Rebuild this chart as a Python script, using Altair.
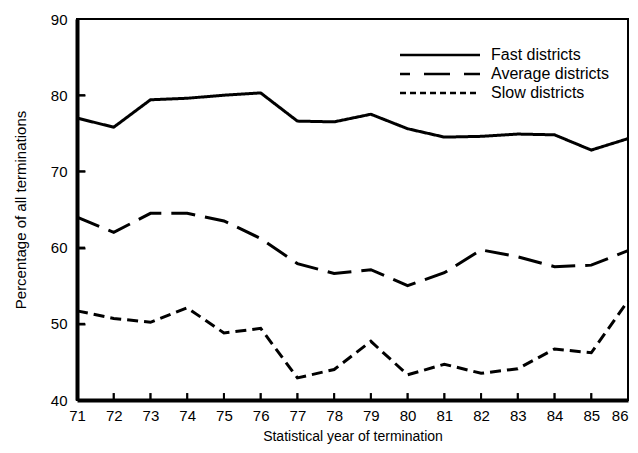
import altair as alt
import pandas as pd

years = list(range(71, 87))
fast = [77.0, 75.8, 79.4, 79.6, 80.0, 80.3, 76.6, 76.5, 77.5, 75.6, 74.5, 74.6, 74.9, 74.8, 72.8, 74.3]
average = [64.0, 62.0, 64.5, 64.5, 63.5, 61.2, 57.9, 56.6, 57.1, 55.0, 56.7, 59.7, 58.8, 57.5, 57.7, 59.6]
slow = [51.7, 50.7, 50.2, 52.1, 48.8, 49.4, 42.9, 44.0, 47.7, 43.3, 44.7, 43.5, 44.1, 46.7, 46.2, 53.0]
y_values = [40, 50, 60, 70, 80, 90]
y_ticks = [50, 60, 70, 80]
x_ticks = list(range(72, 86))
legend_labels = ["Fast districts", "Average districts", "Slow districts"]

FONT = "Liberation Sans"
W, H = 551, 381

df = pd.DataFrame({
    "year": years * 3,
    "pct": fast + average + slow,
    "series": [legend_labels[0]] * 16 + [legend_labels[1]] * 16 + [legend_labels[2]] * 16,
})

xs = alt.Scale(domain=[71, 86], nice=False, zero=False)
ys = alt.Scale(domain=[40, 90], nice=False, zero=False)

lines = alt.Chart(df).mark_line(color="black", strokeWidth=3, strokeCap="butt").encode(
    x=alt.X("year:Q", scale=xs,
            axis=alt.Axis(values=years, title="Statistical year of termination", format="d",
                          ticks=False, grid=False, domainWidth=4, domainColor="black",
                          labelOverlap=False, labelFlush=False, labelSeparation=0,
                          labelAlign={"expr": "datum.value == 86 ? 'right' : 'center'"},
                          labelFont=FONT, labelFontSize=15, labelColor="black", labelPadding=8,
                          titleFont=FONT, titleFontSize=14, titleFontWeight="normal",
                          titleColor="black", titlePadding=6)),
    y=alt.Y("pct:Q", scale=ys,
            axis=alt.Axis(values=y_values, title="Percentage of all terminations",
                          ticks=False, grid=False, domainWidth=4, domainColor="black",
                          labelOverlap=False, labelFlush=False,
                          labelFont=FONT, labelFontSize=15, labelColor="black", labelPadding=10,
                          titleFont=FONT, titleFontSize=15, titleFontWeight="normal",
                          titleColor="black", titlePadding=22)),
    strokeDash=alt.StrokeDash("series:N", legend=None,
                              scale=alt.Scale(domain=legend_labels,
                                              range=[[1, 0], [24, 10], [11, 6]])),
    detail="series:N",
)

# inward tick marks (several methods, drawn at the same spots)
xt_tick = alt.Chart(pd.DataFrame({"gx": x_ticks})).mark_tick(
    color="black", orient="vertical", size=7, thickness=2).encode(
    x=alt.X("gx:Q", scale=xs, axis=None),
    y=alt.Y(datum=40.46, scale=ys, axis=None))
xt_rule = alt.Chart(pd.DataFrame({"tx": x_ticks})).mark_rule(color="black", strokeWidth=2).encode(
    x=alt.X("tx:Q", scale=xs, axis=None),
    y=alt.Y(datum=40, scale=ys, axis=None),
    y2=alt.Y2(datum=40.9))
yt_rule = alt.Chart(pd.DataFrame({"ry": y_ticks})).mark_rule(color="black", strokeWidth=2).encode(
    y=alt.Y("ry:Q", scale=ys, axis=None),
    x=alt.X(datum=71, scale=xs, axis=None),
    x2=alt.X2(datum=71.22))
yt_axis = alt.Chart(pd.DataFrame({"ty": y_ticks})).mark_rule(opacity=0).encode(
    y=alt.Y("ty:Q", scale=ys,
            axis=alt.Axis(orient="right", offset=-W, values=y_ticks, labels=False, domain=False,
                          ticks=True, tickSize=8, tickWidth=2, tickColor="black", zindex=1,
                          grid=False, title=None)))

legend_styles = [([1, 0], 0, 36), ([26, 14], 16, 55), ([6, 4], 0, 74)]
leg_layers = []
for label, (dash, off, py) in zip(legend_labels, legend_styles):
    leg_layers.append(alt.Chart(pd.DataFrame({"a": [0]})).mark_rule(
        color="black", strokeWidth=2.5, strokeDash=dash, strokeDashOffset=off, strokeCap="butt").encode(
        x=alt.value(323), x2=alt.value(403), y=alt.value(py)))
    leg_layers.append(alt.Chart(pd.DataFrame({"a": [0]})).mark_text(
        align="left", baseline="middle", font=FONT, fontSize=16, color="black").encode(
        x=alt.value(414), y=alt.value(py), text=alt.value(label)))

chart = alt.layer(xt_tick, lines, xt_rule, yt_rule, yt_axis, *leg_layers).resolve_axis(
    x="independent", y="independent"
).properties(
    width=W, height=H,
    autosize=alt.AutoSizeParams(type="none"),
    padding={"left": 69, "top": 11, "right": 2, "bottom": 45},
    background="white",
).configure_view(stroke="black", strokeWidth=2)

chart.save("out.html", embed_options={"renderer": "svg", "actions": False})
